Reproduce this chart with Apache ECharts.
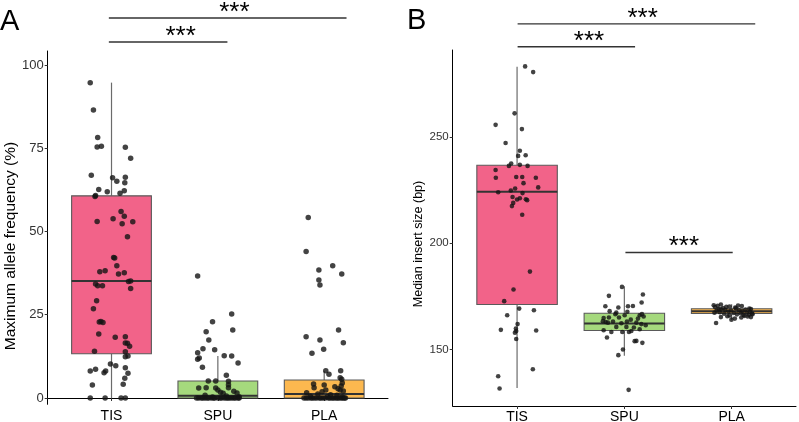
<!DOCTYPE html>
<html>
<head>
<meta charset="utf-8">
<script src="https://cdn.jsdelivr.net/npm/echarts@6/dist/echarts.min.js"></script>
<style>
html,body{margin:0;padding:0;background:#fff;}
#main{width:799px;height:422px;}
</style>
</head>
<body>
<div id="main"></div>
<script>
// ---------- data ----------
const categories = ['TIS', 'SPU', 'PLA'];
const yTicksA = [0, 25, 50, 75, 100];
const yTicksB = [150, 200, 250];
const titleA = 'Maximum allele frequency (%)';
const titleB = 'Median insert size (bp)';

// box stats: [lowerWhisker, Q1, median, Q3, upperWhisker]
const boxA = [
  [0, 13.3, 35.1, 60.7, 94.7],
  [0, 0, 0.7, 5.1, 12.6],
  [0, 0, 1.2, 5.4, 8.1]
];
const boxB = [
  [131.9, 171.1, 224.1, 236.6, 282.9],
  [147.0, 158.9, 162.2, 167.0, 179.7],
  [164.0, 166.9, 168.0, 169.1, 171.3]
];

// Panel A points (values, and horizontal jitter in category units)
const valA_TIS = [94.7,86.5,78.2,75.4,75.6,75.3,72.0,66.9,66.1,65.1,66.3,64.6,62.2,61.5,61.9,62.6,60.8,60.5,56.0,54.6,53.8,53.0,52.3,52.9,48.4,42.2,42.0,39.7,37.2,38.2,37.9,37.6,35.1,35.0,34.2,33.7,33.7,32.9,29.2,26.8,23.0,22.7,22.8,19.2,18.2,18.4,16.5,16.4,15.5,14.0,13.9,12.4,12.6,10.2,9.7,9.1,8.1,8.6,7.6,8.1,7.4,5.9,3.9,4.1,0,0,0,0];
const jitA_TIS = [-0.20,-0.17,-0.13,-0.135,-0.095,0.13,0.18,-0.19,0.01,0.05,0.13,0.125,0.12,0.08,-0.04,-0.12,-0.15,-0.155,0.09,0.12,0.015,-0.135,0.10,0.20,0.15,0.02,0.03,0.05,0.066,-0.06,-0.11,0.12,0.18,0.16,-0.15,-0.085,-0.13,0.18,-0.14,-0.17,-0.10,-0.08,-0.115,-0.12,0.035,0.13,0.13,0.15,0.17,-0.16,0.13,0.13,0.155,-0.01,0.04,0.13,-0.20,-0.15,-0.07,-0.055,0.155,0.125,-0.18,0.11,-0.20,-0.06,0.09,0.13];

const valA_SPU = [36.6,25.2,22.9,20.4,19.9,17.4,14.8,14.5,13.6,12.7,12.6,12.0,11.6,10.5,9.2,6.8,5.1,5.1,5.0,4.0,3.0,3.1,3.0,2.4,3.1,1.7,1.4,2.0,1.5,0.8,0.6,0.4,0.3,0,0,0,0,0,0,0,0,0,0,0,0,0,0,0,0,0,0,0,0,0,0];
const jitA_SPU = [-0.19,0.13,-0.05,0.14,-0.11,-0.085,-0.14,-0.03,-0.19,0.06,0.13,-0.175,-0.19,0.19,-0.145,0.08,-0.09,-0.02,0.10,0.10,-0.18,-0.11,-0.02,0.0,0.10,0.025,0.05,0.15,0.18,-0.12,0.08,0.20,-0.05,-0.20,-0.18,-0.155,-0.14,-0.12,-0.10,-0.085,-0.06,-0.04,-0.03,0.0,0.02,0.035,0.06,0.08,0.095,0.11,0.13,0.15,0.165,0.19,0.20];

const valA_PLA = [54.2,44.0,39.7,38.4,37.2,35.4,33.9,20.4,18.4,17.4,16.6,14.6,13.4,8.2,8.2,7.1,6.1,5.6,4.2,3.9,3.4,3.1,2.4,2.4,2.1,1.6,1.2,1.0,0.8,0.5,0.4,0.3,2.8,3.6,4.5,1.9,0,0,0,0,0,0,0,0,0,0,0,0,0,0,0,0,0,0,0,0,0,0];
const jitA_PLA = [-0.15,-0.17,0.08,-0.05,0.165,-0.05,-0.04,0.135,-0.17,-0.04,0.18,-0.005,-0.115,0.015,0.155,0.045,0.15,0.165,-0.10,0.0,0.10,-0.095,0.015,0.15,0.18,-0.165,-0.06,0.06,0.12,-0.13,0.03,0.17,0.13,0.16,0.17,-0.02,-0.19,-0.17,-0.15,-0.125,-0.11,-0.09,-0.07,-0.045,-0.03,-0.01,0.01,0.04,0.055,0.075,0.09,0.11,0.125,0.14,0.16,0.175,0.19,0.2];

// Panel B points
const valB_TIS = [283.1,280.4,261.0,255.6,253.6,247.1,243.4,241.3,241.0,237.4,236.3,236.8,236.3,234.4,230.7,231.1,231.1,230.7,228.2,226.2,225.7,224.7,223.9,223.5,221.7,221.1,220.6,220.2,220.5,218.9,217.4,213.3,186.6,178.2,172.7,169.2,168.4,166.1,161.9,159.2,159.8,157.9,158.7,158.9,154.9,140.7,137.4,131.6];
const jitB_TIS = [0.075,0.15,-0.023,-0.2,0.045,-0.107,0.026,0.08,0.01,-0.055,-0.076,0.026,0.098,-0.2,-0.198,-0.008,0.048,0.175,0.06,0.197,-0.018,-0.058,-0.176,0.051,-0.042,0.026,0.082,0.094,0.0,-0.036,-0.048,0.048,0.12,-0.033,-0.12,0.02,0.157,-0.092,0.005,-0.151,-0.011,-0.02,-0.008,0.178,-0.008,0.147,-0.176,-0.163];

const valB_SPU = [179.4,175.2,175.8,172.1,170.3,169.7,170.3,170.4,168.0,167.3,166.6,167.7,166.1,166.1,166.6,164.8,165.0,165.0,164.5,163.3,162.9,162.6,163.1,162.3,163.1,162.6,161.9,161.4,160.6,160.6,160.3,159.5,159.0,158.2,158.2,158.2,158.7,155.6,153.9,154.0,153.1,150.0,147.3,131.0,164.0,165.5];
const jitB_SPU = [-0.022,-0.144,0.173,0.161,-0.177,-0.056,0.034,0.08,-0.137,-0.075,-0.084,0.028,0.003,0.143,0.164,-0.193,-0.144,-0.05,0.127,-0.2,-0.174,-0.153,-0.106,-0.028,0.024,0.112,0.158,0.199,-0.075,0.019,0.089,0.143,-0.193,-0.121,-0.019,0.043,0.065,-0.162,0.096,0.112,0.168,-0.013,-0.056,0.04,0.06,0.18];

const valB_PLA = [170.8,171.1,170.0,170.4,169.7,169.2,162.4,164.0,165.2,165.2,170.5,169.9,169.5,169.0,168.6,168.2,167.8,167.5,167.1,166.8,166.5,166.0,165.8,166.3,166.9,167.4,168.0,168.4,168.8,169.3,169.0,167.0,166.2,165.5,165.6,168.3,170.2,170.6,167.7,166.6,167.3,168.9,164.5,165.0];
const jitB_PLA = [-0.167,-0.10,-0.05,0.095,0.033,0.165,-0.145,-0.002,-0.10,0.18,-0.13,-0.155,-0.08,-0.12,-0.06,-0.14,-0.03,-0.11,0.02,-0.07,0.05,-0.02,0.12,0.16,0.19,0.14,0.10,0.07,0.13,0.04,0.18,0.085,0.11,0.15,-0.04,-0.005,-0.02,0.06,0.17,0.195,-0.16,-0.10,0.03,0.09];

// significance brackets: [xStart, xEnd, yLevel, starX]
const sigA = [
  [0.975, 2.09, 106.9, 1.65],
  [0.975, 3.21, 114.1, 2.155]
];
const sigB = [
  [1.005, 2.10, 292.3, 1.67],
  [1.005, 3.22, 303.1, 2.17],
  [2.01, 3.01, 195.6, 2.555]
];

// ---------- build ----------
const fills = ['#F26389', '#A5D97D', '#FCB84F'];
const FONT = '"Liberation Sans", Arial, Helvetica, sans-serif';

function pts(vals, jit, cat) {
  return vals.map((v, i) => [cat + jit[i], v]);
}
function boxData(stats) {
  return stats.map((s, i) => [i + 1].concat(s));
}

function renderBox(params, api) {
  const x = api.value(0);
  const lo = api.value(1), q1 = api.value(2), med = api.value(3), q3 = api.value(4), hi = api.value(5);
  const hw = 0.375;
  const pTL = api.coord([x - hw, q3]);
  const pBR = api.coord([x + hw, q1]);
  const pHi = api.coord([x, hi]);
  const pLo = api.coord([x, lo]);
  const pQ3 = api.coord([x, q3]);
  const pQ1 = api.coord([x, q1]);
  const pML = api.coord([x - hw, med]);
  const pMR = api.coord([x + hw, med]);
  const h = Math.max(pBR[1] - pTL[1], 0.5);
  return {
    type: 'group',
    children: [
      { type: 'line', shape: { x1: pHi[0], y1: pHi[1], x2: pQ3[0], y2: pQ3[1] }, style: { stroke: '#6b6b6b', lineWidth: 1.2 } },
      { type: 'line', shape: { x1: pLo[0], y1: pLo[1], x2: pQ1[0], y2: pQ1[1] }, style: { stroke: '#6b6b6b', lineWidth: 1.2 } },
      { type: 'rect', shape: { x: pTL[0], y: pTL[1], width: pBR[0] - pTL[0], height: h }, style: { fill: fills[params.dataIndex], stroke: '#5a5a5a', lineWidth: 1.1 } },
      { type: 'line', shape: { x1: pML[0], y1: pML[1], x2: pMR[0], y2: pMR[1] }, style: { stroke: '#333333', lineWidth: 2 } }
    ]
  };
}

function renderSig(params, api) {
  const a = api.coord([api.value(0), api.value(2)]);
  const b = api.coord([api.value(1), api.value(2)]);
  const t = api.coord([api.value(3), api.value(2)]);
  return {
    type: 'group',
    children: [
      { type: 'line', shape: { x1: a[0], y1: a[1], x2: b[0], y2: b[1] }, style: { stroke: '#333', lineWidth: 1.4 } },
      { type: 'text', x: t[0], y: a[1] - 5.3, style: { text: '***', fontSize: 26, fontFamily: FONT, fill: '#000', textAlign: 'center', textVerticalAlign: 'middle' } }
    ]
  };
}

function xAxis(gi, margin) {
  return {
    type: 'value', gridIndex: gi, min: 0.4, max: 3.6,
    axisLine: { show: true, lineStyle: { color: '#000', width: 1 } },
    axisTick: { show: true, length: 3, customValues: [1, 2, 3], lineStyle: { color: '#333' } },
    axisLabel: { show: true, customValues: [1, 2, 3], formatter: v => categories[Math.round(v) - 1], fontSize: 14, color: '#000', margin: margin, fontFamily: FONT },
    splitLine: { show: false }
  };
}
function yAxis(gi, min, max, ticks, fs) {
  return {
    type: 'value', gridIndex: gi, min: min, max: max,
    axisLine: { show: true, lineStyle: { color: '#000', width: 1 } },
    axisTick: { show: true, length: 3, customValues: ticks, lineStyle: { color: '#333' } },
    axisLabel: { show: true, customValues: ticks, fontSize: fs, color: '#333', margin: 4, fontFamily: FONT },
    splitLine: { show: false }
  };
}

const scatterStyle = (size) => ({ symbol: 'circle', symbolSize: size, itemStyle: { color: '#141414' }, z: 5, silent: true });

const option = {
  animation: false,
  backgroundColor: '#fff',
  textStyle: { fontFamily: FONT },
  grid: [
    { left: 47.7, top: 51, width: 340.3, height: 353.3, containLabel: false, outerBoundsMode: 'none' },
    { left: 452.7, top: 50, width: 343.3, height: 356, containLabel: false, outerBoundsMode: 'none' }
  ],
  xAxis: [xAxis(0, 5), xAxis(1, 4)],
  yAxis: [yAxis(0, -1.9, 104.2, yTicksA, 13), yAxis(1, 123.4, 290.8, yTicksB, 11.5)],
  graphic: [
    { type: 'text', left: 0, top: 7, style: { text: 'A', fontSize: 29, fontFamily: FONT, fill: '#000' } },
    { type: 'text', left: 407, top: 6, style: { text: 'B', fontSize: 29, fontFamily: FONT, fill: '#000' } },
    { type: 'text', x: 11, y: 246, rotation: Math.PI / 2, style: { text: titleA, fontSize: 15.5, fontFamily: FONT, fill: '#000', textAlign: 'center', textVerticalAlign: 'middle' } },
    { type: 'text', x: 419, y: 244, rotation: Math.PI / 2, style: { text: titleB, fontSize: 12.5, fontFamily: FONT, fill: '#000', textAlign: 'center', textVerticalAlign: 'middle' } }
  ],
  series: [
    { type: 'custom', xAxisIndex: 0, yAxisIndex: 0, renderItem: renderBox, data: boxData(boxA), encode: { x: 0, y: [1, 2, 3, 4, 5] }, z: 2, silent: true },
    { type: 'custom', xAxisIndex: 1, yAxisIndex: 1, renderItem: renderBox, data: boxData(boxB), encode: { x: 0, y: [1, 2, 3, 4, 5] }, z: 2, silent: true },
    Object.assign({ type: 'scatter', xAxisIndex: 0, yAxisIndex: 0, data: pts(valA_TIS, jitA_TIS, 1) }, scatterStyle(5.5)),
    Object.assign({ type: 'scatter', xAxisIndex: 0, yAxisIndex: 0, data: pts(valA_SPU, jitA_SPU, 2) }, scatterStyle(5.5)),
    Object.assign({ type: 'scatter', xAxisIndex: 0, yAxisIndex: 0, data: pts(valA_PLA, jitA_PLA, 3) }, scatterStyle(5.5)),
    Object.assign({ type: 'scatter', xAxisIndex: 1, yAxisIndex: 1, data: pts(valB_TIS, jitB_TIS, 1) }, scatterStyle(4.6)),
    Object.assign({ type: 'scatter', xAxisIndex: 1, yAxisIndex: 1, data: pts(valB_SPU, jitB_SPU, 2) }, scatterStyle(4.6)),
    Object.assign({ type: 'scatter', xAxisIndex: 1, yAxisIndex: 1, data: pts(valB_PLA, jitB_PLA, 3) }, scatterStyle(4.6)),
    { type: 'custom', xAxisIndex: 0, yAxisIndex: 0, renderItem: renderSig, data: sigA, clip: false, encode: { x: [0, 1, 3], y: 2 }, z: 6, silent: true },
    { type: 'custom', xAxisIndex: 1, yAxisIndex: 1, renderItem: renderSig, data: sigB, clip: false, encode: { x: [0, 1, 3], y: 2 }, z: 6, silent: true }
  ]
};

const chart = echarts.init(document.getElementById('main'), null, { renderer: 'canvas' });
chart.setOption(option);
</script>
</body>
</html>
